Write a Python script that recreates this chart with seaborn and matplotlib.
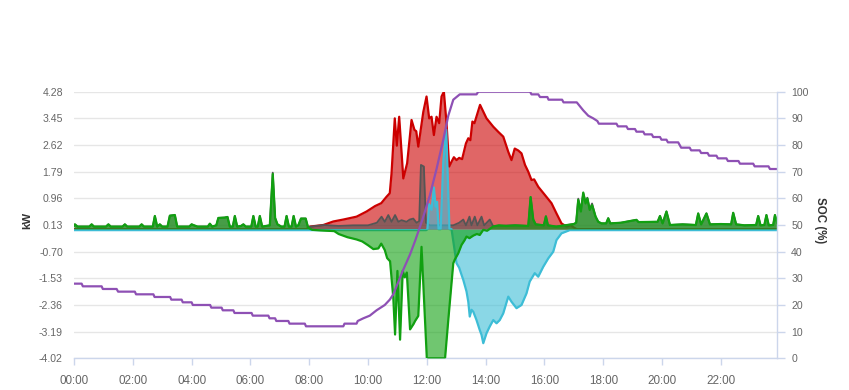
import matplotlib
matplotlib.use("Agg")
import matplotlib.pyplot as plt
import seaborn as sns
import pandas as pd

# ---------------- data (hours of day, kW / %) ----------------
hour_ticks = [0, 2, 4, 6, 8, 10, 12, 14, 16, 18, 20, 22]
hour_labels = ["00:00", "02:00", "04:00", "06:00", "08:00", "10:00",
               "12:00", "14:00", "16:00", "18:00", "20:00", "22:00"]
kw_ticks = [-4.02, -3.19, -2.36, -1.53, -0.70, 0.13, 0.96, 1.79, 2.62, 3.45, 4.28]
soc_ticks = [0, 10, 20, 30, 40, 50, 60, 70, 80, 90, 100]

# solar production (red)
solar_pts = [
    (0.00, 0.0), (7.90, 0.0), (8.02, 0.08), (8.48, 0.13), (8.82, 0.24), (9.16, 0.30),
    (9.61, 0.39), (9.95, 0.55), (10.24, 0.72), (10.45, 0.81), (10.63, 1.01), (10.74, 1.12),
    (10.80, 1.74), (10.91, 3.45), (10.98, 2.60), (11.06, 3.50), (11.20, 1.58), (11.33, 2.05),
    (11.48, 3.40), (11.58, 3.09), (11.64, 3.05), (11.71, 2.57), (11.88, 3.65), (11.99, 4.13),
    (12.08, 3.45), (12.16, 3.50), (12.24, 2.93), (12.33, 3.50), (12.42, 3.30), (12.50, 4.13),
    (12.58, 4.28), (12.67, 3.30), (12.76, 1.95), (12.84, 2.10), (12.92, 2.24), (13.01, 2.15),
    (13.10, 2.22), (13.20, 2.18), (13.33, 2.67), (13.41, 2.83), (13.48, 2.77), (13.55, 3.35),
    (13.62, 3.30), (13.81, 3.87), (14.03, 3.45), (14.26, 3.19), (14.43, 3.03), (14.60, 2.88),
    (14.77, 2.41), (14.88, 2.15), (14.99, 2.51), (15.11, 2.45), (15.22, 2.36), (15.34, 2.00),
    (15.45, 1.79), (15.56, 1.53), (15.65, 1.55), (15.79, 1.32), (16.02, 1.06), (16.24, 0.81),
    (16.41, 0.49), (16.58, 0.18), (16.75, 0.08), (16.90, 0.12), (17.00, 0.05), (17.10, 0.0),
    (23.92, 0.0),
]

# grid exchange (green)
grid_pts = [
    (0.00, 0.10), (0.03, 0.15), (0.12, 0.08), (0.52, 0.08), (0.60, 0.15), (0.68, 0.08),
    (1.09, 0.08), (1.17, 0.15), (1.25, 0.08), (1.65, 0.08), (1.73, 0.15), (1.81, 0.08),
    (2.22, 0.08), (2.30, 0.15), (2.38, 0.08), (2.68, 0.08), (2.75, 0.41), (2.83, 0.08),
    (2.92, 0.15), (3.00, 0.08), (3.18, 0.08), (3.26, 0.42), (3.43, 0.44), (3.51, 0.08),
    (3.92, 0.08), (4.00, 0.15), (4.08, 0.12), (4.20, 0.08), (4.55, 0.08), (4.62, 0.17),
    (4.70, 0.08), (4.84, 0.12), (4.91, 0.35), (5.12, 0.36), (5.22, 0.38), (5.30, 0.08),
    (5.40, 0.08), (5.47, 0.41), (5.55, 0.08), (5.68, 0.10), (5.76, 0.15), (5.84, 0.08),
    (6.03, 0.08), (6.10, 0.41), (6.18, 0.08), (6.25, 0.08), (6.32, 0.41), (6.40, 0.08),
    (6.66, 0.12), (6.76, 1.72), (6.84, 0.35), (6.92, 0.15), (7.05, 0.08), (7.16, 0.08),
    (7.23, 0.41), (7.31, 0.08), (7.40, 0.08), (7.47, 0.41), (7.55, 0.08), (7.63, 0.12),
    (7.72, 0.33), (7.88, 0.33), (7.96, 0.05), (8.10, -0.02), (8.40, -0.04), (8.85, -0.06),
    (9.00, -0.15), (9.30, -0.25), (9.61, -0.32), (9.80, -0.38), (10.00, -0.50), (10.18, -0.62),
    (10.35, -0.60), (10.45, -0.45), (10.57, -0.65), (10.65, -0.90), (10.75, -1.00),
    (10.86, -2.14), (10.92, -3.28), (11.00, -1.30), (11.09, -3.44), (11.18, -1.30),
    (11.25, -1.50), (11.32, -1.35), (11.43, -3.12), (11.55, -2.95), (11.60, -2.86),
    (11.71, -2.70), (11.82, -0.55), (12.00, -4.02), (12.62, -4.02), (12.73, -2.83),
    (12.90, -1.06), (12.95, -0.95), (13.07, -0.75), (13.18, -0.49), (13.28, -0.35),
    (13.35, -0.23), (13.45, -0.28), (13.58, -0.20), (13.70, -0.15), (13.80, -0.18),
    (13.92, -0.02), (14.05, -0.05), (14.25, 0.08), (14.45, 0.12), (14.70, 0.10),
    (15.00, 0.12), (15.45, 0.10), (15.53, 1.00), (15.62, 0.30), (15.70, 0.15), (15.98, 0.12),
    (16.05, 0.40), (16.12, 0.12), (16.40, 0.08), (16.70, 0.12), (17.00, 0.16), (17.08, 0.20),
    (17.15, 0.91), (17.24, 0.55), (17.32, 1.14), (17.40, 0.80), (17.46, 0.96), (17.54, 0.60),
    (17.62, 0.75), (17.74, 0.39), (17.83, 0.23), (17.94, 0.18), (18.10, 0.18), (18.17, 0.34),
    (18.24, 0.18), (18.60, 0.20), (19.13, 0.29), (19.20, 0.22), (19.85, 0.23), (19.93, 0.41),
    (20.02, 0.18), (20.15, 0.55), (20.27, 0.13), (20.70, 0.15), (21.15, 0.13), (21.23, 0.49),
    (21.33, 0.15), (21.51, 0.49), (21.63, 0.15), (22.00, 0.16), (22.35, 0.15), (22.42, 0.51),
    (22.52, 0.15), (22.80, 0.12), (23.20, 0.13), (23.27, 0.41), (23.35, 0.12), (23.48, 0.13),
    (23.55, 0.44), (23.63, 0.12), (23.78, 0.13), (23.84, 0.44), (23.92, 0.18),
]

# house load (dark gray)
load_pts = [
    (0.00, 0.10), (0.03, 0.15), (0.12, 0.08), (0.52, 0.08), (0.60, 0.15), (0.68, 0.08),
    (1.09, 0.08), (1.17, 0.15), (1.25, 0.08), (1.65, 0.08), (1.73, 0.15), (1.81, 0.08),
    (2.22, 0.08), (2.30, 0.15), (2.38, 0.08), (2.68, 0.08), (2.75, 0.41), (2.83, 0.08),
    (2.92, 0.15), (3.00, 0.08), (3.18, 0.08), (3.26, 0.42), (3.43, 0.44), (3.51, 0.08),
    (3.92, 0.08), (4.00, 0.15), (4.08, 0.12), (4.20, 0.08), (4.55, 0.08), (4.62, 0.17),
    (4.70, 0.08), (4.84, 0.12), (4.91, 0.35), (5.12, 0.36), (5.22, 0.38), (5.30, 0.08),
    (5.40, 0.08), (5.47, 0.41), (5.55, 0.08), (5.68, 0.10), (5.76, 0.15), (5.84, 0.08),
    (6.03, 0.08), (6.10, 0.41), (6.18, 0.08), (6.25, 0.08), (6.32, 0.41), (6.40, 0.08),
    (6.66, 0.12), (6.76, 1.76), (6.84, 0.35), (6.92, 0.15), (7.05, 0.08), (7.16, 0.08),
    (7.23, 0.41), (7.31, 0.08), (7.40, 0.08), (7.47, 0.41), (7.55, 0.08), (7.63, 0.12),
    (7.72, 0.33), (7.88, 0.33), (7.96, 0.06), (8.05, 0.08), (8.50, 0.13), (9.00, 0.10),
    (9.50, 0.12), (10.00, 0.12), (10.30, 0.20), (10.46, 0.39), (10.57, 0.23), (10.69, 0.44),
    (10.80, 0.23), (10.92, 0.44), (11.03, 0.23), (11.14, 0.28), (11.31, 0.23), (11.42, 0.30),
    (11.54, 0.33), (11.65, 0.20), (11.74, 0.25), (11.80, 2.00), (11.90, 1.95), (11.97, 0.20),
    (12.10, 0.12), (12.90, 0.12), (13.10, 0.20), (13.24, 0.30), (13.33, 0.12), (13.45, 0.39),
    (13.52, 0.12), (13.63, 0.39), (13.72, 0.12), (13.86, 0.39), (13.95, 0.12), (14.14, 0.30),
    (14.25, 0.10), (15.00, 0.12), (15.45, 0.10), (15.53, 1.00), (15.62, 0.30), (15.70, 0.15),
    (15.98, 0.12), (16.05, 0.40), (16.12, 0.12), (16.40, 0.08), (16.70, 0.12), (17.00, 0.16),
    (17.08, 0.20), (17.15, 0.95), (17.24, 0.60), (17.32, 1.12), (17.40, 0.85), (17.46, 0.98),
    (17.54, 0.62), (17.62, 0.80), (17.74, 0.39), (17.83, 0.23), (17.94, 0.18), (18.10, 0.18),
    (18.17, 0.34), (18.24, 0.18), (18.60, 0.20), (19.13, 0.29), (19.20, 0.22), (19.85, 0.23),
    (19.93, 0.41), (20.02, 0.18), (20.15, 0.55), (20.27, 0.13), (20.70, 0.15), (21.15, 0.13),
    (21.23, 0.49), (21.33, 0.15), (21.51, 0.49), (21.63, 0.15), (22.00, 0.16), (22.35, 0.15),
    (22.42, 0.51), (22.52, 0.15), (22.80, 0.12), (23.20, 0.13), (23.27, 0.41), (23.35, 0.12),
    (23.48, 0.13), (23.55, 0.44), (23.63, 0.12), (23.78, 0.13), (23.84, 0.44), (23.92, 0.18),
]

# battery power (cyan)
battery_pts = [
    (0.00, -0.03), (11.98, -0.03), (12.02, 0.00), (12.08, 0.78), (12.16, 0.60), (12.24, 1.30),
    (12.30, 0.70), (12.35, 0.85), (12.40, 0.00), (12.47, 0.00), (12.56, 2.10), (12.66, 3.10),
    (12.77, 0.00), (12.84, 0.00), (13.01, -1.06), (13.10, -1.20), (13.18, -1.42),
    (13.24, -1.58), (13.35, -1.94), (13.41, -2.26), (13.46, -2.72), (13.52, -2.51),
    (13.58, -2.57), (13.69, -2.83), (13.80, -3.14), (13.86, -3.29), (13.92, -3.55),
    (14.03, -3.24), (14.14, -3.03), (14.26, -2.83), (14.37, -2.93), (14.48, -2.83),
    (14.60, -2.62), (14.77, -2.10), (14.88, -2.26), (15.05, -2.46), (15.22, -2.36),
    (15.39, -2.00), (15.50, -1.63), (15.67, -1.37), (15.79, -1.48), (15.96, -1.17),
    (16.13, -0.91), (16.30, -0.70), (16.41, -0.34), (16.58, -0.13), (16.86, -0.03),
    (17.20, -0.03), (23.92, -0.03),
]

# battery state of charge (purple, right axis)
soc_pts = [
    (0.00, 28), (0.26, 28), (0.30, 27), (0.94, 27), (0.98, 26), (1.45, 26), (1.50, 25),
    (2.07, 25), (2.11, 24), (2.70, 24), (2.74, 23), (3.27, 23), (3.31, 22), (3.66, 22),
    (3.70, 21), (4.00, 21), (4.04, 20), (4.63, 20), (4.67, 19), (5.02, 19), (5.06, 18),
    (5.42, 18), (5.46, 17), (6.04, 17), (6.08, 16), (6.61, 16), (6.65, 15), (6.84, 15),
    (6.88, 14), (7.29, 14), (7.33, 13), (7.85, 13), (7.89, 12), (9.16, 12), (9.20, 13),
    (9.61, 13), (9.65, 14), (9.84, 15), (10.06, 16), (10.29, 18), (10.57, 20), (10.74, 22),
    (10.86, 24), (10.97, 27), (11.19, 33), (11.43, 39), (11.60, 44), (11.85, 52),
    (12.10, 61), (12.33, 71), (12.56, 82), (12.73, 91), (12.90, 97), (13.12, 99),
    (13.69, 99), (13.75, 100), (15.51, 100), (15.56, 99), (15.79, 99), (15.85, 98),
    (16.10, 98), (16.14, 97), (16.60, 97), (16.65, 96), (17.10, 96), (17.32, 93),
    (17.49, 91), (17.66, 90), (17.80, 89), (17.85, 88), (18.45, 88), (18.50, 87),
    (18.79, 87), (18.84, 86), (19.08, 86), (19.13, 85), (19.36, 85), (19.41, 84),
    (19.65, 84), (19.70, 83), (19.93, 83), (19.98, 82), (20.15, 82), (20.20, 81),
    (20.55, 81), (20.60, 80), (20.65, 79), (20.94, 79), (20.99, 78), (21.28, 78),
    (21.33, 77), (21.55, 77), (21.60, 76), (21.85, 76), (21.90, 75), (22.19, 75),
    (22.24, 74), (22.60, 74), (22.65, 73), (23.10, 73), (23.15, 72), (23.62, 72),
    (23.67, 71), (23.92, 71),
]

# ---------------- styling ----------------
sns.set_theme(style="white")
plt.rcParams['font.family'] = ['Liberation Sans', 'DejaVu Sans']

W, H = 849, 390
fig = plt.figure(figsize=(W / 100, H / 100), dpi=100)
x0, x1, ytop, ybot = 74, 777.3, 91.7, 358.3
ax = fig.add_axes([x0 / W, 1 - ybot / H, (x1 - x0) / W, (ybot - ytop) / H])
ax2 = ax.twinx()

def frame(pts):
    return pd.DataFrame(pts, columns=["t", "v"])

series = [
    (solar_pts, "#cc0000", 1.6, 2),
    (load_pts, "#555555", 1.3, 3),
    (battery_pts, "#3dbdd6", 1.6, 4),
    (grid_pts, "#11a011", 1.6, 5),
]
for pts, col, lw, z in series:
    df = frame(pts)
    ax.fill_between(df["t"], df["v"], 0, color=col, alpha=0.6, linewidth=0, zorder=z)
    sns.lineplot(data=df, x="t", y="v", ax=ax, color=col, linewidth=lw,
                 estimator=None, sort=False, zorder=z + 0.5)

soc_df = frame(soc_pts)
sns.lineplot(data=soc_df, x="t", y="v", ax=ax2, color="#8e50b4", linewidth=1.6,
             estimator=None, sort=False)

ax.set_xlim(0, 23.92)
ax.set_ylim(kw_ticks[0], kw_ticks[-1])
ax2.set_ylim(soc_ticks[0], soc_ticks[-1])

ax.set_xticks(hour_ticks)
ax.set_xticklabels(hour_labels)
ax.set_yticks(kw_ticks)
ax.set_yticklabels([f"{v:.2f}" for v in kw_ticks])
ax2.set_yticks(soc_ticks)
ax2.set_yticklabels([str(v) for v in soc_ticks])

ax.yaxis.grid(True, color="#e6e6e6", linewidth=1)
ax.xaxis.grid(False)
ax.set_axisbelow(True)

for s in ["left", "top", "right"]:
    ax.spines[s].set_visible(False)
ax.spines["bottom"].set_color("#ccd6eb")
ax.spines["bottom"].set_linewidth(1)
for s in ["left", "top", "bottom"]:
    ax2.spines[s].set_visible(False)
ax2.spines["right"].set_color("#ccd6eb")
ax2.spines["right"].set_linewidth(1)

ax.tick_params(axis="y", length=0, pad=8, labelsize=7.6, labelcolor="#666666")
ax.tick_params(axis="x", length=5, width=1, color="#ccd6eb", pad=7,
               labelsize=8.4, labelcolor="#666666", bottom=True)
ax2.tick_params(axis="y", length=6, width=1, color="#ccd6eb", pad=4,
                labelsize=7.6, labelcolor="#666666", right=True)

ax.set_xlabel("")
ax.set_ylabel("")
ax2.set_ylabel("")

fig.text(27 / W, 1 - 220 / H, "kW", rotation=90, ha="center", va="center",
         fontsize=8.2, fontweight="bold", color="#333333")
fig.text(820 / W, 1 - 220 / H, "SOC (%)", rotation=270, ha="center", va="center",
         fontsize=8.3, fontweight="bold", color="#333333")

fig.savefig("out.png", dpi=100)
